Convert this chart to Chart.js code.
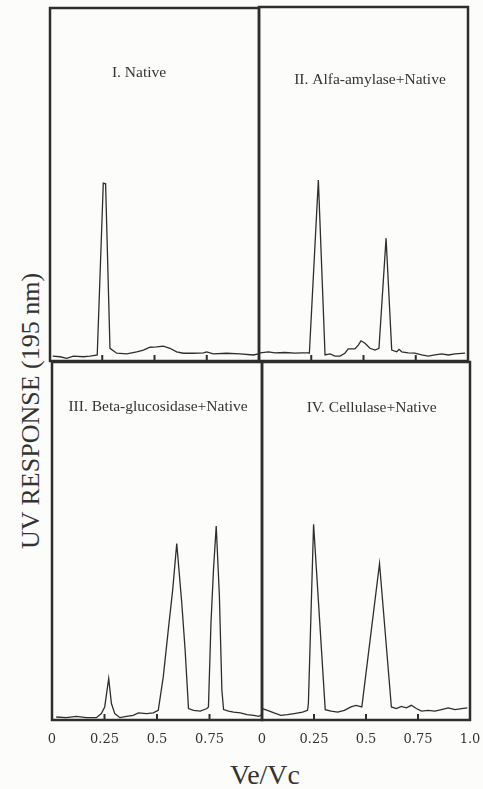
<!DOCTYPE html>
<html>
<head>
<meta charset="utf-8">
<script src="https://cdn.jsdelivr.net/npm/chart.js@4.4.1/dist/chart.umd.min.js"></script>
<style>
  html, body { margin: 0; padding: 0; background: #fcfcfa; }
  body { width: 483px; height: 789px; position: relative; overflow: hidden; font-family: 'Liberation Serif', serif; color: #333; }
  .panel { position: absolute; }
  #ylabel { position: absolute; left: 31px; top: 411px; transform: translate(-50%, -50%) rotate(-90deg); white-space: nowrap; font-size: 26px; }
  #xlabel { position: absolute; left: 265px; top: 775px; transform: translate(-50%, -50%); white-space: nowrap; font-size: 28px; }
</style>
</head>
<body>
<div id="ylabel">UV RESPONSE (195 nm)</div>
<div id="xlabel">Ve/Vc</div>
<script>
// Ve/Vc axis
const tickValues = [0, 0.25, 0.5, 0.75, 1];
const tickLabels = ['0', '0.25', '0.5', '0.75', '1.0'];
const tickMarks = [0.25, 0.5, 0.75];

const panelTitles = ['I. Native', 'II. Alfa-amylase+Native', 'III. Beta-glucosidase+Native', 'IV. Cellulase+Native'];

// I. Native
const nativeX = [0.013, 0.048, 0.080, 0.112, 0.16, 0.191, 0.215, 0.226, 0.255, 0.266, 0.287, 0.319, 0.367, 0.415, 0.447, 0.478, 0.51, 0.542, 0.574, 0.606, 0.638, 0.686, 0.734, 0.75, 0.781, 0.845, 0.909, 0.973, 0.997];
const nativeY = [1.4, 1.2, 0.75, 1.4, 1.2, 1.4, 1.6, 1.7, 50.4, 50.2, 3.6, 2.2, 2.0, 2.6, 3.1, 3.9, 4.0, 4.2, 3.6, 2.6, 2.2, 2.2, 2.3, 2.6, 2.0, 2.2, 2.0, 1.7, 2.0];

// II. Alfa-amylase + Native
const amylaseX = [0.005, 0.045, 0.077, 0.124, 0.172, 0.204, 0.236, 0.241, 0.284, 0.316, 0.34, 0.364, 0.388, 0.411, 0.427, 0.459, 0.475, 0.488, 0.507, 0.531, 0.555, 0.574, 0.608, 0.635, 0.659, 0.670, 0.683, 0.714, 0.746, 0.778, 0.810, 0.842, 0.874, 0.906, 0.938, 0.986];
const amylaseY = [2.3, 2.6, 2.3, 2.4, 2.2, 2.3, 2.3, 2.2, 51.1, 1.7, 2.0, 1.4, 1.4, 2.2, 3.4, 3.4, 4.5, 5.7, 5.0, 3.6, 3.1, 3.6, 34.7, 3.1, 2.6, 3.3, 2.6, 2.3, 2.2, 1.7, 1.4, 1.7, 2.0, 1.7, 2.0, 2.2];

// III. Beta-glucosidase + Native
const glucosidaseX = [0.020, 0.068, 0.116, 0.164, 0.211, 0.235, 0.251, 0.270, 0.283, 0.299, 0.323, 0.355, 0.387, 0.411, 0.451, 0.482, 0.506, 0.530, 0.554, 0.575, 0.594, 0.618, 0.634, 0.650, 0.674, 0.706, 0.738, 0.745, 0.757, 0.769, 0.782, 0.797, 0.809, 0.817, 0.841, 0.865, 0.897, 0.929, 0.961, 0.985, 1.0];
const glucosidaseY = [0.84, 0.66, 1.03, 0.66, 0.66, 1.78, 3.65, 11.6, 4.6, 1.78, 0.66, 1.03, 1.3, 1.97, 1.78, 1.97, 2.7, 12.1, 25.3, 36.5, 49.3, 32.6, 19.5, 3.2, 2.7, 2.5, 3.2, 3.65, 27.0, 42.0, 54.2, 34.8, 8.3, 2.9, 2.5, 2.2, 1.97, 1.5, 1.3, 1.03, 1.5];

// IV. Cellulase + Native
const cellulaseX = [0.002, 0.026, 0.058, 0.090, 0.122, 0.155, 0.195, 0.219, 0.223, 0.248, 0.304, 0.332, 0.364, 0.396, 0.428, 0.452, 0.480, 0.565, 0.622, 0.646, 0.670, 0.694, 0.718, 0.742, 0.767, 0.799, 0.831, 0.863, 0.895, 0.928, 0.960, 0.987];
const cellulaseY = [3.2, 2.7, 1.97, 1.3, 1.5, 1.8, 2.2, 2.7, 4.6, 54.7, 2.9, 2.5, 2.2, 2.7, 3.65, 4.1, 3.65, 43.7, 3.65, 3.2, 3.8, 3.4, 4.1, 3.2, 2.5, 2.7, 2.5, 2.9, 3.4, 2.9, 3.2, 3.4];

const PAD = 24;
const AXIS_H = 42;
const INK = '#2e2e2e';

// where each panel frame sits on the page
const panels = [
  { left: 50, top: 8, width: 209, height: 353, xs: nativeX, ys: nativeY, title: panelTitles[0], fx: 0.426, dy: 65, labels: false },
  { left: 259, top: 7, width: 209, height: 354, xs: amylaseX, ys: amylaseY, title: panelTitles[1], fx: 0.531, dy: 73, labels: false },
  { left: 52, top: 362, width: 210, height: 356, xs: glucosidaseX, ys: glucosidaseY, title: panelTitles[2], fx: 0.505, dy: 45, labels: true, hideLast: true },
  { left: 262, top: 362, width: 208, height: 356, xs: cellulaseX, ys: cellulaseY, title: panelTitles[3], fx: 0.527, dy: 46, labels: true }
];

const panelFrame = {
  id: 'panelFrame',
  afterDraw(chart, args, opts) {
    const { ctx, chartArea: a } = chart;
    const x = chart.scales.x;
    ctx.save();
    ctx.strokeStyle = INK;
    ctx.lineWidth = 2.5;
    ctx.strokeRect(a.left, a.top, a.right - a.left, a.bottom - a.top);
    ctx.lineWidth = 2;
    tickMarks.forEach(v => {
      const px = x.getPixelForValue(v);
      ctx.beginPath();
      ctx.moveTo(px, a.bottom);
      ctx.lineTo(px, a.bottom - 6);
      ctx.stroke();
    });
    ctx.fillStyle = '#333';
    ctx.font = '15.5px "Liberation Serif"';
    ctx.textAlign = 'center';
    ctx.textBaseline = 'middle';
    ctx.fillText(opts.text, a.left + opts.fx * (a.right - a.left), a.top + opts.dy);
    ctx.restore();
  }
};

panels.forEach(p => {
  const box = document.createElement('div');
  box.className = 'panel';
  box.style.left = (p.left - PAD) + 'px';
  box.style.top = (p.top - PAD) + 'px';
  box.style.width = (p.width + 2 * PAD) + 'px';
  box.style.height = (p.height + PAD + (p.labels ? AXIS_H : PAD)) + 'px';
  const canvas = document.createElement('canvas');
  box.appendChild(canvas);
  document.body.appendChild(box);

  new Chart(canvas, {
    type: 'line',
    data: {
      datasets: [{
        data: p.xs.map((v, i) => ({ x: v, y: p.ys[i] })),
        borderColor: INK,
        borderWidth: 1.3,
        pointRadius: 0,
        tension: 0,
        fill: false
      }]
    },
    plugins: [panelFrame],
    options: {
      responsive: true,
      maintainAspectRatio: false,
      animation: false,
      layout: { padding: { left: PAD, right: PAD, top: PAD, bottom: p.labels ? 0 : PAD } },
      plugins: {
        legend: { display: false },
        tooltip: { enabled: false },
        panelFrame: { text: p.title, fx: p.fx, dy: p.dy }
      },
      scales: {
        x: {
          type: 'linear',
          min: 0,
          max: 1,
          display: p.labels,
          grid: { display: false, drawTicks: false },
          border: { display: false },
          afterBuildTicks: s => { s.ticks = tickValues.map(v => ({ value: v })); },
          ticks: {
            padding: 13,
            maxRotation: 0,
            autoSkip: false,
            color: '#333',
            font: { family: '"DejaVu Serif"', size: 13, lineHeight: 14 / 13 },
            callback: v => (p.hideLast && v === 1) ? '' : tickLabels[tickValues.indexOf(v)]
          }
        },
        y: { min: 0, max: 100, display: false }
      }
    }
  });
});
</script>
</body>
</html>
